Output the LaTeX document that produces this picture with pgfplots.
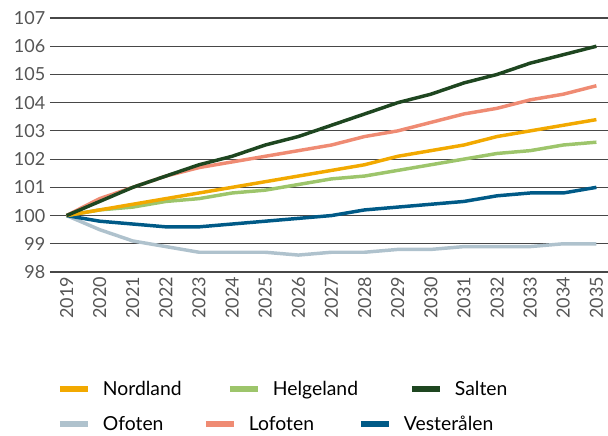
\documentclass[border=0pt]{standalone}
\usepackage{pgfplots}
\pgfplotsset{compat=1.18}
\usepackage{fontspec}
\setmainfont{Lato}
\definecolor{cNord}{HTML}{F2A900}
\definecolor{cHelg}{HTML}{9DC56B}
\definecolor{cSalt}{HTML}{1E4620}
\definecolor{cOfo}{HTML}{AFC2CD}
\definecolor{cLofo}{HTML}{EF8B73}
\definecolor{cVest}{HTML}{005A87}
\definecolor{ctick}{HTML}{555555}
\pgfplotsset{
  base/.style={
    scale only axis, width=418.5pt, height=190.5pt,
    at={(37.5pt,123pt)}, anchor=south west,
    xmin=2018.5, xmax=2035.35, ymin=98, ymax=107,
    legend image code/.code={\draw[##1, line width=4.5pt] (0pt,0pt) -- (21pt,0pt);},
    legend style={draw=none, fill=none, inner sep=0pt, legend columns=3,
      nodes={inner sep=0pt, anchor=west, font=\fontsize{14.5}{16}\selectfont},
      /tikz/every odd column/.append style={column sep=9pt}},
  }
}
\begin{document}
\begin{tikzpicture}
\path[use as bounding box] (0,0) rectangle (456pt,327pt);
\begin{axis}[base,
  axis line style={draw=none}, major tick length=0pt,
  ymajorgrids, grid style={line width=0.9pt, color=black!72},
  ytick={98,99,...,107}, xtick={2019,2020,...,2035},
  /pgf/number format/assume math mode=true,
  xticklabel={\pgfmathprintnumber[1000 sep={}]{\tick}},
  ticklabel style={font=\fontsize{13.5}{15}\selectfont, text=ctick},
  xticklabel style={rotate=90, anchor=east},
  legend style={at={(0.012,-0.462)}, anchor=west},
  every axis plot/.append style={line width=2.6pt, line join=round},
]
\addplot[cOfo, forget plot] coordinates {(2019,100)(2020,99.5)(2021,99.1)(2022,98.9)(2023,98.7)(2024,98.7)(2025,98.7)(2026,98.6)(2027,98.7)(2028,98.7)(2029,98.8)(2030,98.8)(2031,98.9)(2032,98.9)(2033,98.9)(2034,99.0)(2035,99.0)};
\addplot[cVest, forget plot] coordinates {(2019,100)(2020,99.8)(2021,99.7)(2022,99.6)(2023,99.6)(2024,99.7)(2025,99.8)(2026,99.9)(2027,100.0)(2028,100.2)(2029,100.3)(2030,100.4)(2031,100.5)(2032,100.7)(2033,100.8)(2034,100.8)(2035,101.0)};
\addplot[cHelg, forget plot] coordinates {(2019,100)(2020,100.2)(2021,100.3)(2022,100.5)(2023,100.6)(2024,100.8)(2025,100.9)(2026,101.1)(2027,101.3)(2028,101.4)(2029,101.6)(2030,101.8)(2031,102.0)(2032,102.2)(2033,102.3)(2034,102.5)(2035,102.6)};
\addplot[cNord, forget plot] coordinates {(2019,100)(2020,100.2)(2021,100.4)(2022,100.6)(2023,100.8)(2024,101.0)(2025,101.2)(2026,101.4)(2027,101.6)(2028,101.8)(2029,102.1)(2030,102.3)(2031,102.5)(2032,102.8)(2033,103.0)(2034,103.2)(2035,103.4)};
\addplot[cLofo, forget plot] coordinates {(2019,100)(2020,100.6)(2021,101.0)(2022,101.4)(2023,101.7)(2024,101.9)(2025,102.1)(2026,102.3)(2027,102.5)(2028,102.8)(2029,103.0)(2030,103.3)(2031,103.6)(2032,103.8)(2033,104.1)(2034,104.3)(2035,104.6)};
\addplot[cSalt, forget plot] coordinates {(2019,100)(2020,100.5)(2021,101.0)(2022,101.4)(2023,101.8)(2024,102.1)(2025,102.5)(2026,102.8)(2027,103.2)(2028,103.6)(2029,104.0)(2030,104.3)(2031,104.7)(2032,105.0)(2033,105.4)(2034,105.7)(2035,106.0)};
\addlegendimage{cNord}\addlegendentry{\makebox[93pt][l]{Nordland}}
\addlegendimage{cHelg}\addlegendentry{\makebox[102pt][l]{Helgeland}}
\addlegendimage{cSalt}\addlegendentry{Salten}
\end{axis}
\begin{axis}[base, hide axis,
  legend style={at={(0.012,-0.600)}, anchor=west}]
\addlegendimage{cOfo}\addlegendentry{\makebox[75pt][l]{Ofoten}}
\addlegendimage{cLofo}\addlegendentry{\makebox[81.75pt][l]{Lofoten}}
\addlegendimage{cVest}\addlegendentry{Vesterålen}
\end{axis}
\end{tikzpicture}
\end{document}
